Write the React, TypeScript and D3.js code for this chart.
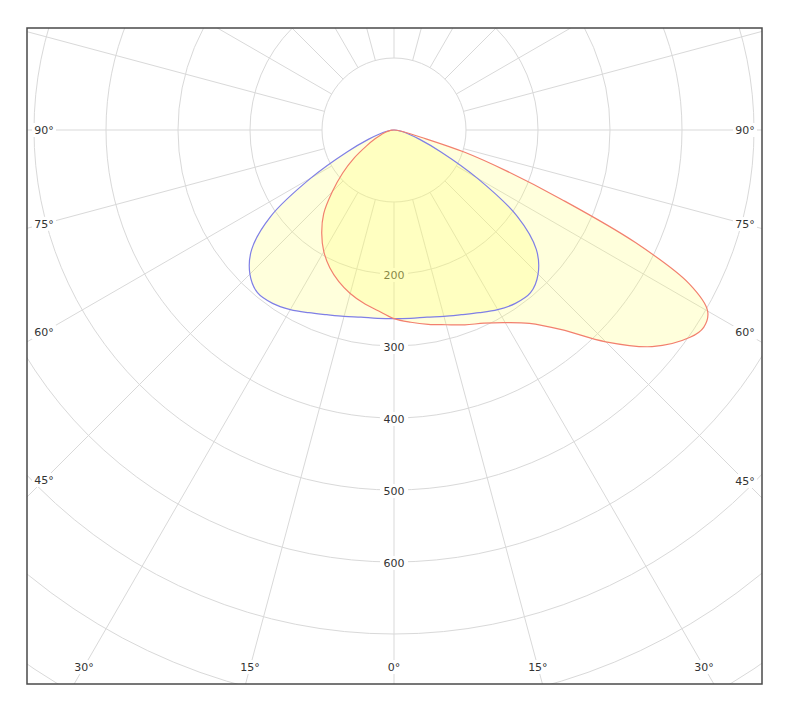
import { useEffect, useRef } from 'react'
import * as d3 from 'd3'

// gamma angles (deg from nadir) and luminous intensity (cd/klm)
const gammas = [0, 5, 10, 15, 20, 25, 30, 35, 40, 45, 50, 55, 60, 65, 70, 75, 80, 85, 90]
// C0 - C180 plane (blue), symmetric
const c0Values = [262, 262.5, 264, 268, 273, 280, 288, 294, 295, 283, 258, 209, 133, 72, 38, 20, 10, 4, 0]
// C270 plane (red, left side)
const c270Values = [262, 252, 244, 235, 224, 211, 195, 175, 152, 121, 93, 67, 44, 29, 19, 13, 7, 3, 0]
// C90 plane (red, right side), finer steps near the peak
const c90Gammas = [0, 5, 10, 15, 20, 25, 30, 35, 40, 45, 50, 55, 57.5, 60, 62.5, 65, 67.5, 70, 72.5, 75, 80, 85, 90]
const c90Values = [262, 268, 274, 280, 288, 296, 309, 328, 362, 416, 468, 502, 510, 503, 462, 370, 252, 166, 103, 40, 12, 4, 0]

const radialTicks = [200, 300, 400, 500, 600]
const angleTicks = [0, 15, 30, 45, 60, 75, 90]

const W = 800
const H = 726

const PolarChart = () => {
  const svgRef = useRef<SVGSVGElement | null>(null)

  useEffect(() => {
    if (!svgRef.current) return
    const svg = d3.select(svgRef.current)
    svg.selectAll('*').remove()

    const frame = { x0: 27, y0: 28, x1: 762, y1: 684 }
    const cx = 394
    const cy = 130
    const r = d3.scaleLinear().domain([0, 100]).range([0, 72])
    const rad = (deg: number) => (deg * Math.PI) / 180

    svg.append('rect').attr('width', W).attr('height', H).attr('fill', 'white')

    svg
      .append('clipPath')
      .attr('id', 'frameClip')
      .append('rect')
      .attr('x', frame.x0)
      .attr('y', frame.y0)
      .attr('width', frame.x1 - frame.x0)
      .attr('height', frame.y1 - frame.y0)

    const grid = svg.append('g').attr('clip-path', 'url(#frameClip)')
    const g = grid.append('g').attr('transform', `translate(${cx},${cy})`)

    // circles
    const rings = d3.range(100, 1001, 100)
    g.selectAll('circle.ring')
      .data(rings)
      .join('circle')
      .attr('class', 'ring')
      .attr('r', (d) => r(d))
      .attr('fill', 'none')
      .attr('stroke', '#d9d9d9')
      .attr('stroke-width', 1)

    // spokes every 15deg, starting at inner ring
    const spokes = d3.range(0, 360, 15)
    g.selectAll('line.spoke')
      .data(spokes)
      .join('line')
      .attr('class', 'spoke')
      .attr('x1', (d) => r(100) * Math.sin(rad(d)))
      .attr('y1', (d) => r(100) * Math.cos(rad(d)))
      .attr('x2', (d) => r(1200) * Math.sin(rad(d)))
      .attr('y2', (d) => r(1200) * Math.cos(rad(d)))
      .attr('stroke', '#d9d9d9')
      .attr('stroke-width', 1)

    const font = 'DejaVu Sans, Verdana, sans-serif'

    // radial labels
    const rl = g.selectAll('g.rlabel').data(radialTicks).join('g').attr('class', 'rlabel')
    rl.append('rect')
      .attr('x', -14)
      .attr('y', (d) => r(d) - 6)
      .attr('width', 28)
      .attr('height', 14)
      .attr('fill', 'white')
    rl.append('text')
      .attr('x', 0)
      .attr('y', (d) => r(d) + 1)
      .attr('dy', '0.35em')
      .attr('text-anchor', 'middle')
      .attr('font-family', font)
      .attr('font-size', 11)
      .attr('fill', '#333')
      .text((d) => d)

    // angle labels on an inset rectangle
    const inset = { x0: 44, x1: 745, y1: 667 }
    const labelPos: { x: number; y: number; t: string }[] = []
    angleTicks.forEach((a) => {
      ;[-1, 1].forEach((side) => {
        if (a === 0 && side === -1) return
        const s = Math.sin(rad(a))
        const c = Math.cos(rad(a))
        const halfW = side > 0 ? inset.x1 - cx : cx - inset.x0
        let x: number
        let y: number
        if (c > 0 && (s / c) * (inset.y1 - cy) <= halfW) {
          y = inset.y1
          x = cx + side * (s / c) * (inset.y1 - cy)
        } else {
          x = cx + side * halfW
          y = cy + (c / s) * halfW
        }
        labelPos.push({ x, y, t: `${a}°` })
      })
    })
    const al = svg.append('g').selectAll('g').data(labelPos).join('g')
    al.append('rect')
      .attr('x', (d) => d.x - 12)
      .attr('y', (d) => d.y - 7)
      .attr('width', 24)
      .attr('height', 14)
      .attr('fill', 'white')
    al.append('text')
      .attr('x', (d) => d.x)
      .attr('y', (d) => d.y)
      .attr('dy', '0.35em')
      .attr('text-anchor', 'middle')
      .attr('font-family', font)
      .attr('font-size', 11)
      .attr('fill', '#333')
      .text((d) => d.t)

    // curves: d3 radial angle is clockwise from up, nadir = PI
    const buildPoints = (
      leftG: number[],
      left: number[],
      rightG: number[],
      right: number[]
    ) => {
      const pts: [number, number][] = []
      for (let i = leftG.length - 1; i >= 0; i--) {
        pts.push([Math.PI + rad(leftG[i]), r(left[i])])
      }
      for (let i = 1; i < rightG.length - 1; i++) {
        pts.push([Math.PI - rad(rightG[i]), r(right[i])])
      }
      return pts
    }

    const line = d3
      .lineRadial<[number, number]>()
      .angle((d) => d[0])
      .radius((d) => d[1])
      .curve(d3.curveCatmullRomClosed.alpha(0.5))

    const curves = svg.append('g').attr('transform', `translate(${cx},${cy})`)
    const series = [
      { pts: buildPoints(gammas, c0Values, gammas, c0Values), stroke: '#7f7fe6' },
      { pts: buildPoints(gammas, c270Values, c90Gammas, c90Values), stroke: '#f2806e' },
    ]
    series.forEach((s) => {
      curves
        .append('path')
        .attr('d', line(s.pts))
        .attr('fill', '#ffff66')
        .attr('fill-opacity', 0.23)
        .attr('stroke', 'none')
    })
    series.forEach((s) => {
      curves
        .append('path')
        .attr('d', line(s.pts))
        .attr('fill', 'none')
        .attr('stroke', s.stroke)
        .attr('stroke-width', 1.2)
    })

    // frame
    svg
      .append('rect')
      .attr('x', frame.x0)
      .attr('y', frame.y0)
      .attr('width', frame.x1 - frame.x0)
      .attr('height', frame.y1 - frame.y0)
      .attr('fill', 'none')
      .attr('stroke', '#4a4a4a')
      .attr('stroke-width', 1.5)
  }, [])

  return (
    <svg
      ref={svgRef}
      width={W}
      height={H}
      style={{ position: 'absolute', left: 0, top: 0 }}
    ></svg>
  )
}

export default function App() {
  return <PolarChart />
}
